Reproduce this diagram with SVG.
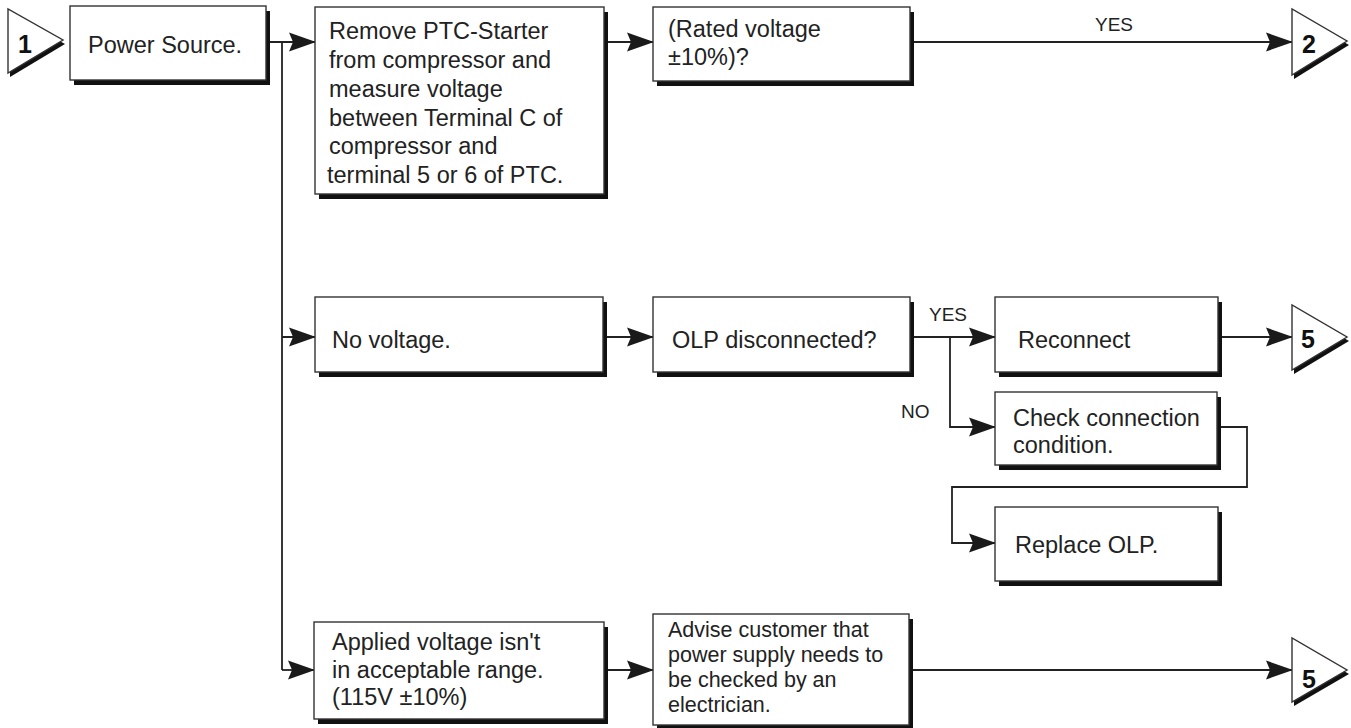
<svg xmlns="http://www.w3.org/2000/svg" width="1351" height="728" viewBox="0 0 1351 728">
<defs>
<marker id="ah" markerUnits="userSpaceOnUse" viewBox="0 0 27 20" refX="26" refY="10" markerWidth="27" markerHeight="20" orient="auto">
<path d="M0,0.5 L27,10 L0,19.5 L4,10 Z" fill="#1a1a1a"/>
</marker>
<style>
.bx{fill:#fff;stroke:#333;stroke-width:1.4}
.sh{fill:#111}
.t{font-family:"Liberation Sans",Arial,sans-serif;font-size:23.5px;fill:#222}
.ts{font-family:"Liberation Sans",Arial,sans-serif;font-size:21.5px;fill:#222}
.lb{font-family:"Liberation Sans",Arial,sans-serif;font-size:19px;fill:#222}
.num{font-family:"Liberation Sans",Arial,sans-serif;font-size:25px;font-weight:bold;fill:#111;text-anchor:middle}
.ln{fill:none;stroke:#222;stroke-width:1.8}
</style>
</defs>
<rect width="1351" height="728" fill="#fff"/>

<g id="connectors">
<path class="ln" d="M266,42 H315" marker-end="url(#ah)"/>
<path class="ln" d="M282,42 V670"/>
<path class="ln" d="M282,337 H315" marker-end="url(#ah)"/>
<path class="ln" d="M282,670 H314" marker-end="url(#ah)"/>
<path class="ln" d="M604,42 H653" marker-end="url(#ah)"/>
<path class="ln" d="M910,42 H1292" marker-end="url(#ah)"/>
<path class="ln" d="M603,337 H653" marker-end="url(#ah)"/>
<path class="ln" d="M910,337 H995" marker-end="url(#ah)"/>
<path class="ln" d="M950,337 V427 H995" marker-end="url(#ah)"/>
<path class="ln" d="M1217,427 H1247 V487 H952 V543 H995" marker-end="url(#ah)"/>
<path class="ln" d="M1218,337 H1292" marker-end="url(#ah)"/>
<path class="ln" d="M604,670 H653" marker-end="url(#ah)"/>
<path class="ln" d="M909,670 H1292" marker-end="url(#ah)"/>
<text class="lb" x="1095" y="31">YES</text>
<text class="lb" x="929" y="321">YES</text>
<text class="lb" x="901" y="418">NO</text>
</g>

<g id="t1">
<polygon class="sh" points="10,13 10,77 65,44"/>
<polygon class="bx" points="8,9 8,73 63,40"/>
<text class="num" x="25" y="53">1</text>
</g>

<g id="n-power">
<rect class="sh" x="74" y="11" width="196" height="74"/>
<rect class="bx" x="70" y="6" width="196" height="74"/>
<text class="t" x="88" y="53">Power Source.</text>
</g>

<g id="n-remove">
<rect class="sh" x="319" y="12" width="289" height="187"/>
<rect class="bx" x="315" y="7" width="289" height="187"/>
<text class="t" x="329" y="39">Remove PTC-Starter</text>
<text class="t" x="329" y="68">from compressor and</text>
<text class="t" x="329" y="97">measure voltage</text>
<text class="t" x="329" y="126">between Terminal C of</text>
<text class="t" x="329" y="154">compressor and</text>
<text class="t" x="327" y="183">terminal 5 or 6 of PTC.</text>
</g>

<g id="n-rated">
<rect class="sh" x="657" y="12" width="257" height="74"/>
<rect class="bx" x="653" y="7" width="257" height="74"/>
<text class="t" x="668" y="37">(Rated voltage</text>
<text class="t" x="668" y="65">±10%)?</text>
</g>

<g id="t2">
<polygon class="sh" points="1294,13 1294,79 1349,45"/>
<polygon class="bx" points="1292,9 1292,75 1347,41"/>
<text class="num" x="1309" y="53">2</text>
</g>

<g id="n-novolt">
<rect class="sh" x="319" y="302" width="288" height="75"/>
<rect class="bx" x="315" y="297" width="288" height="75"/>
<text class="t" x="332" y="348">No voltage.</text>
</g>

<g id="n-olp">
<rect class="sh" x="657" y="302" width="257" height="75"/>
<rect class="bx" x="653" y="297" width="257" height="75"/>
<text class="t" x="672" y="348">OLP disconnected?</text>
</g>

<g id="n-reconnect">
<rect class="sh" x="999" y="302" width="223" height="75"/>
<rect class="bx" x="995" y="297" width="223" height="75"/>
<text class="t" x="1018" y="348">Reconnect</text>
</g>

<g id="t5a">
<polygon class="sh" points="1294,309 1294,374 1349,341"/>
<polygon class="bx" points="1292,305 1292,370 1347,337"/>
<text class="num" x="1308" y="348">5</text>
</g>

<g id="n-check">
<rect class="sh" x="999" y="397" width="222" height="73"/>
<rect class="bx" x="995" y="392" width="222" height="73"/>
<text class="t" x="1013" y="426">Check connection</text>
<text class="t" x="1013" y="453">condition.</text>
</g>

<g id="n-replace">
<rect class="sh" x="999" y="512" width="223" height="74"/>
<rect class="bx" x="995" y="507" width="223" height="74"/>
<text class="t" x="1015" y="553">Replace OLP.</text>
</g>

<g id="n-applied">
<rect class="sh" x="318" y="627" width="290" height="97"/>
<rect class="bx" x="314" y="622" width="290" height="97"/>
<text class="t" x="332" y="650">Applied voltage isn't</text>
<text class="t" x="332" y="678">in acceptable range.</text>
<text class="t" x="332" y="705">(115V ±10%)</text>
</g>

<g id="n-advise">
<rect class="sh" x="657" y="619" width="256" height="111"/>
<rect class="bx" x="653" y="614" width="256" height="111"/>
<text class="ts" x="668" y="637">Advise customer that</text>
<text class="ts" x="668" y="662">power supply needs to</text>
<text class="ts" x="668" y="687">be checked by an</text>
<text class="ts" x="668" y="712">electrician.</text>
</g>

<g id="t5b">
<polygon class="sh" points="1294,642 1294,706 1349,674"/>
<polygon class="bx" points="1292,638 1292,702 1347,670"/>
<text class="num" x="1309" y="688">5</text>
</g>
</svg>
